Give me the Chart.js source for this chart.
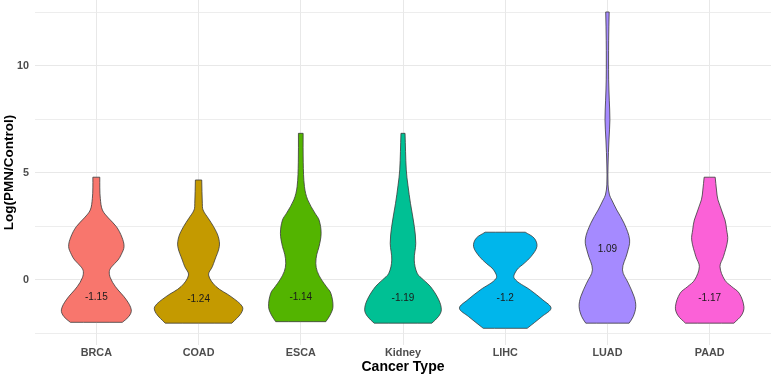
<!DOCTYPE html>
<html>
<head>
<meta charset="utf-8">
<script src="https://cdn.jsdelivr.net/npm/chart.js@4.4.0/dist/chart.umd.min.js"></script>
<style>
  html, body { margin: 0; padding: 0; background: #fff; }
</style>
</head>
<body>
<canvas id="myChart" width="771" height="376"></canvas>
<script>
const cancerTypes = ['BRCA', 'COAD', 'ESCA', 'Kidney', 'LIHC', 'LUAD', 'PAAD'];
const medianLabels = [-1.15, -1.24, -1.14, -1.19, -1.2, 1.09, -1.17];
const yTicks = [-2.5, 0, 2.5, 5, 7.5, 10, 12.5];

// violin outlines: log values and half widths (category units)
const brcaLevels = [-1.98, -1.71, -1.4, -0.93, -0.31, 0.1, 0.39, 0.6, 0.93, 1.2, 1.56, 2.0, 2.49, 2.9, 3.27, 3.8, 4.3, 4.8];
const brcaWidths = [0.254, 0.318, 0.342, 0.294, 0.186, 0.137, 0.127, 0.147, 0.212, 0.245, 0.271, 0.250, 0.196, 0.117, 0.059, 0.039, 0.034, 0.034];

const coadLevels = [-2.02, -1.56, -1.25, -0.78, -0.31, 0.23, 0.62, 0.93, 1.56, 2.02, 2.49, 2.88, 3.27, 3.58, 4.67];
const coadWidths = [0.326, 0.416, 0.429, 0.318, 0.171, 0.098, 0.135, 0.159, 0.203, 0.193, 0.147, 0.095, 0.044, 0.037, 0.031];

const escaLevels = [-1.95, -1.64, -1.25, -0.62, -0.31, 0, 0.4, 0.78, 1.2, 1.56, 2.18, 2.8, 3.12, 3.74, 4.36, 5.5, 6.85];
const escaWidths = [0.245, 0.287, 0.315, 0.294, 0.250, 0.204, 0.161, 0.147, 0.157, 0.179, 0.199, 0.179, 0.139, 0.068, 0.036, 0.024, 0.023];

const kidneyLevels = [-2.02, -1.71, -1.4, -0.93, -0.31, 0, 0.31, 0.93, 1.71, 2.49, 3.58, 4.4, 5.14, 6.85];
const kidneyWidths = [0.282, 0.347, 0.375, 0.350, 0.269, 0.201, 0.139, 0.110, 0.125, 0.111, 0.073, 0.049, 0.032, 0.020];

const lihcLevels = [-2.26, -1.71, -1.32, -0.93, -0.47, 0.08, 0.47, 0.78, 1.09, 1.56, 1.95, 2.23];
const lihcWidths = [0.215, 0.359, 0.448, 0.367, 0.245, 0.088, 0.114, 0.186, 0.252, 0.310, 0.284, 0.196];

const luadLevels = [-2.02, -1.71, -1.25, -0.78, -0.15, 0.47, 1.25, 1.87, 2.65, 3.27, 3.74, 3.97, 4.44, 5.37, 6.54, 7.48, 8.4, 9.35, 11.2, 12.52];
const luadWidths = [0.212, 0.252, 0.277, 0.261, 0.204, 0.147, 0.193, 0.217, 0.163, 0.091, 0.042, 0.020, 0.006, 0.006, 0.015, 0.024, 0.018, 0.012, 0.012, 0.017];

const paadLevels = [-2.02, -1.64, -1.25, -0.62, -0.31, 0, 0.62, 1.09, 1.87, 2.34, 2.8, 3.74, 4.2, 4.8];
const paadWidths = [0.237, 0.313, 0.335, 0.289, 0.215, 0.147, 0.101, 0.135, 0.176, 0.166, 0.150, 0.081, 0.067, 0.054];

const violinLevels = [brcaLevels, coadLevels, escaLevels, kidneyLevels, lihcLevels, luadLevels, paadLevels];
const violinWidths = [brcaWidths, coadWidths, escaWidths, kidneyWidths, lihcWidths, luadWidths, paadWidths];

const violinColors = ['#F8766D', '#C49A00', '#53B400', '#00C094', '#00B6EB', '#A58AFF', '#FB61D7'];
const fontFamily = '"Liberation Sans", Arial, Helvetica, sans-serif';

// outline goes up the right side and back down the left, corners doubled so they stay sharp
function violinPoints(i, levels, widths) {
    const n = levels.length - 1;
    let pts = [];
    pts.push({x: i + widths[0], y: levels[0]});
    for (let k = 0; k <= n; k++) pts.push({x: i + widths[k], y: levels[k]});
    pts.push({x: i + widths[n], y: levels[n]});
    pts.push({x: i - widths[n], y: levels[n]});
    for (let k = n; k >= 0; k--) pts.push({x: i - widths[k], y: levels[k]});
    pts.push({x: i - widths[0], y: levels[0]});
    pts.push({x: i + widths[0], y: levels[0]});
    return pts;
}

const datasets = cancerTypes.map((name, i) => ({
    label: name,
    data: violinPoints(i, violinLevels[i], violinWidths[i]),
    showLine: true,
    fill: 'shape',
    backgroundColor: violinColors[i],
    borderColor: '#3a3a3a',
    borderWidth: 0.8,
    tension: 0.35,
    pointRadius: 0
}));

const medianLabelPlugin = {
    id: 'medianLabels',
    afterDatasetsDraw(chart) {
        const {ctx, scales: {x, y}} = chart;
        ctx.save();
        ctx.font = '10px ' + fontFamily;
        ctx.fillStyle = '#1a1a1a';
        ctx.textAlign = 'center';
        ctx.textBaseline = 'middle';
        medianLabels.forEach((m, i) => {
            ctx.fillText(String(m), x.getPixelForValue(i), y.getPixelForValue(m) - 7);
        });
        ctx.restore();
    }
};

const ctx = document.getElementById('myChart');

new Chart(ctx, {
    type: 'scatter',
    data: { datasets: datasets },
    options: {
        responsive: false,
        animation: false,
        events: [],
        layout: { padding: 0 },
        plugins: {
            legend: { display: false },
            tooltip: { enabled: false }
        },
        scales: {
            x: {
                type: 'linear',
                min: -0.6,
                max: 6.6,
                afterBuildTicks: s => { s.ticks = cancerTypes.map((c, i) => ({value: i})); },
                afterFit: s => { s.height = 31; s.paddingLeft = 0; s.paddingRight = 0; },
                border: { display: false },
                grid: { color: '#e8e8e8', lineWidth: 1, drawTicks: false },
                ticks: {
                    callback: v => cancerTypes[v],
                    padding: 2,
                    color: '#4d4d4d',
                    autoSkip: false,
                    maxRotation: 0,
                    font: { family: fontFamily, size: 10.8, weight: 'bold' }
                },
                title: {
                    display: true,
                    text: 'Cancer Type',
                    color: '#000',
                    padding: { top: 0, bottom: 0 },
                    font: { family: fontFamily, size: 14, weight: 'bold' }
                }
            },
            y: {
                type: 'linear',
                min: -3.04,
                max: 13.08,
                afterBuildTicks: s => { s.ticks = yTicks.map(v => ({value: v})); },
                afterFit: s => { s.width = 35; s.paddingTop = 0; s.paddingBottom = 0; },
                border: { display: false },
                grid: {
                    color: '#e8e8e8',
                    lineWidth: c => (c.tick && c.tick.value % 5 === 0) ? 1 : 0.8,
                    drawTicks: false
                },
                ticks: {
                    callback: v => (v % 5 === 0 ? String(v) : ''),
                    padding: 6,
                    color: '#4d4d4d',
                    font: { family: fontFamily, size: 10.8, weight: 'bold' }
                },
                title: {
                    display: true,
                    text: 'Log(PMN/Control)',
                    color: '#000',
                    padding: { top: 1, bottom: 0 },
                    font: { family: fontFamily, size: 13.5, weight: 'bold' }
                }
            }
        }
    },
    plugins: [medianLabelPlugin]
});
</script>
</body>
</html>
